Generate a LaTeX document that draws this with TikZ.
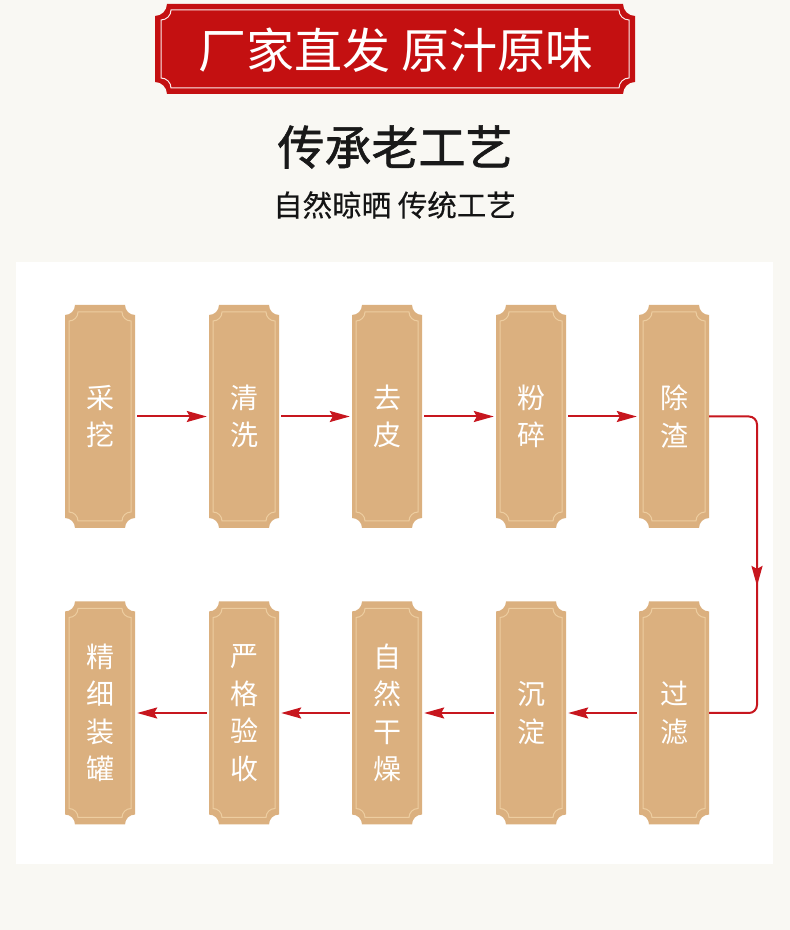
\documentclass[tikz,border=0pt]{standalone}
\usepackage{fontspec}
\newfontfamily\cjk{Noto Sans CJK SC}
\newfontfamily\cjkbold[FakeBold=1.3]{Noto Sans CJK SC}
\newfontfamily\cjksemi[FakeBold=0.4]{Noto Sans CJK SC}
\usetikzlibrary{arrows.meta,decorations.markings}
\definecolor{bgcol}{HTML}{F9F8F3}
\definecolor{bannerred}{HTML}{C41011}
\definecolor{boxfill}{HTML}{DBB07F}
\definecolor{boxline}{HTML}{EDCDA0}
\definecolor{arrowred}{HTML}{C7161E}
\newcommand{\notchshape}[6]{%
  \path[#6] (#1,#2+#5) -- (#1,#4-#5) arc[start angle=270,end angle=360,radius=#5]
    -- (#3-#5,#4) arc[start angle=180,end angle=270,radius=#5]
    -- (#3,#2+#5) arc[start angle=90,end angle=180,radius=#5]
    -- (#1+#5,#2) arc[start angle=0,end angle=90,radius=#5] -- cycle;}
\newcommand{\procbox}[4]{%
  \notchshape{#2-35}{#3-111.5}{#2+35}{#3+111.5}{10}{fill=boxfill}
  \notchshape{#2-31}{#3-104.5}{#2+31}{#3+104.5}{9}{draw=boxline,line width=1pt}
  \node[proc] (#1) at (#2,#3) {#4};}
\tikzset{
  proc/.style={minimum width=70pt,minimum height=223pt,inner sep=0pt,align=center,
    text=white,font=\cjk\fontsize{28}{37.5}\selectfont},
  flow/.style={draw=arrowred,line width=2pt,-{Stealth[length=20pt,width=11pt,inset=3pt]},
    shorten <=2pt,shorten >=2pt},
  flowline/.style={draw=arrowred,line width=2pt},
}
\begin{document}
\begin{tikzpicture}[x=1pt,y=1pt]
\useasboundingbox (0,0) rectangle (790,930);
\fill[bgcol] (0,0) rectangle (790,930);
% banner
\notchshape{155}{836}{635}{926}{12}{fill=bannerred}
\notchshape{161}{842}{629}{920}{10}{draw=white!92!bannerred,line width=1pt}
\node[text=white,font=\cjk\fontsize{48}{52}\selectfont] (banner) at (396,880) {厂家直发 原汁原味};
\node[text=black!90,font=\cjkbold\fontsize{47}{50}\selectfont] (title) at (395,783) {传承老工艺};
\node[text=black!92,font=\cjksemi\fontsize{29.5}{32}\selectfont] (subtitle) at (394.5,725) {自然晾晒 传统工艺};
% panel
\fill[white] (16,66) rectangle (773,668);
% boxes row 1
\procbox{b1}{100}{513.5}{采\\挖}
\procbox{b2}{244}{513.5}{清\\洗}
\procbox{b3}{387}{513.5}{去\\皮}
\procbox{b4}{531}{513.5}{粉\\碎}
\procbox{b5}{674}{513.5}{除\\渣}
% boxes row 2
\procbox{b10}{674}{217}{过\\滤}
\procbox{b9}{531}{217}{沉\\淀}
\procbox{b8}{387}{217}{自\\然\\干\\燥}
\procbox{b7}{244}{217}{严\\格\\验\\收}
\procbox{b6}{100}{217}{精\\细\\装\\罐}
% connectors
\draw[flow] (b1) -- (b2);
\draw[flow] (b2) -- (b3);
\draw[flow] (b3) -- (b4);
\draw[flow] (b4) -- (b5);
\coordinate (turn) at (757,217);
\draw[flowline,rounded corners=8pt,
  decoration={markings,mark=at position 0.555 with {\arrow{Stealth[length=20pt,width=11pt,inset=3pt]}}},
  postaction={decorate}] (b5.east) -| (turn) -- (b10.east);
\draw[flow] (b10) -- (b9);
\draw[flow] (b9) -- (b8);
\draw[flow] (b8) -- (b7);
\draw[flow] (b7) -- (b6);
\end{tikzpicture}
\end{document}
